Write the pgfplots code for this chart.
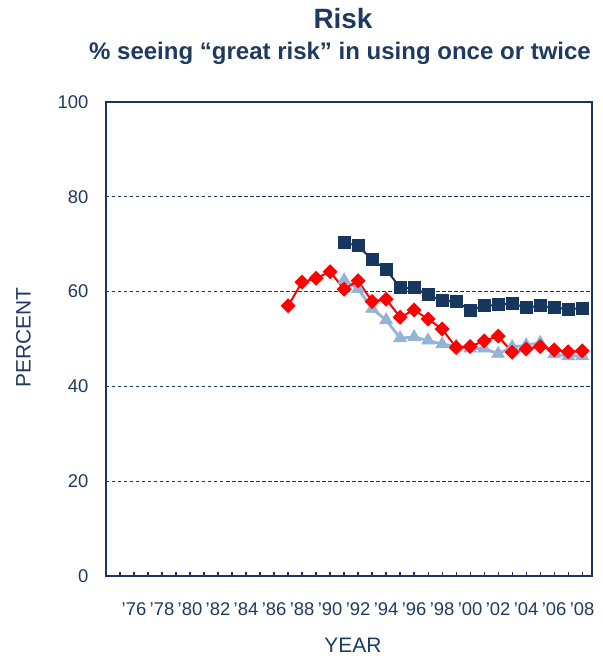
\documentclass[border=0pt]{standalone}
\usepackage{fontspec}
\setmainfont{Liberation Sans}
\usepackage{pgfplots}
\pgfplotsset{compat=1.18}
\definecolor{navy}{HTML}{17375E}
\definecolor{lblue}{HTML}{95B3D7}
\definecolor{txt}{HTML}{1F3A60}
\definecolor{rred}{HTML}{FF0000}
\begin{document}
\begin{tikzpicture}
\path[use as bounding box] (-106bp,-82bp) rectangle (497bp,576bp);
\begin{axis}[
  at={(0,0)}, anchor=south west,
  scale only axis, width=486bp, height=474bp,
  xmin=1974, xmax=2008.7, ymin=0, ymax=100,
  xtick={1975,...,2008},
  xticklabels={,’76,,’78,,’80,,’82,,’84,,’86,,’88,,’90,,’92,,’94,,’96,,’98,,’00,,’02,,’04,,’06,,’08},
  ytick={0,20,...,100},
  ymajorgrids,
  grid style={navy, line width=0.9bp, dash pattern=on 3.5bp off 2.5bp},
  axis line style={navy, line width=2.2bp},
  xtick pos=bottom, ytick pos=left,
  xtick align=inside,
  major tick length=4bp,
  xtick style={navy, line width=1.2bp},
  ytick style={draw=none},
  /pgf/number format/assume math mode=true,
  tick label style={font=\fontsize{18.5}{20}\selectfont, text=txt},
  xticklabel style={anchor=base, yshift=-39bp},
  yticklabel style={anchor=east, xshift=-14bp},
  xlabel={YEAR}, ylabel={PERCENT},
  label style={font=\fontsize{21}{23}\selectfont, text=txt},
  xlabel style={at={(axis description cs:0.508,-0.1456)}, anchor=center},
  ylabel style={at={(axis description cs:-0.1698,0.503)}, anchor=center, rotate=0},
  clip=false,
]
\addplot[lblue, line width=2.8bp, mark=triangle*, mark size=7.5bp, mark options={solid, fill=lblue, draw=lblue, line width=0.5bp}]
  coordinates {(1991,62.4)(1992,60.6)(1993,56.4)(1994,54.0)(1995,50.2)(1996,50.4)(1997,49.7)(1998,48.9)(1999,48.5)(2000,48.0)(2001,48.0)(2002,46.9)(2003,48.3)(2004,48.7)(2005,49.2)(2006,46.8)(2007,46.4)(2008,46.4)};
\addplot[rred, line width=2bp, mark=square*, mark size=4.3bp, mark options={solid, rotate=45, fill=rred, draw=rred}]
  coordinates {(1987,57.0)(1988,62.0)(1989,62.8)(1990,64.2)(1991,60.5)(1992,62.3)(1993,57.9)(1994,58.4)(1995,54.6)(1996,56.1)(1997,54.2)(1998,52.1)(1999,48.2)(2000,48.4)(2001,49.6)(2002,50.6)(2003,47.2)(2004,47.9)(2005,48.4)(2006,47.7)(2007,47.3)(2008,47.5)};
\addplot[navy, line width=2bp, mark=square*, mark size=5.5bp, mark options={solid, fill=navy, draw=navy}]
  coordinates {(1991,70.3)(1992,69.7)(1993,66.7)(1994,64.7)(1995,60.8)(1996,60.8)(1997,59.3)(1998,58.1)(1999,57.9)(2000,56.1)(2001,57.0)(2002,57.2)(2003,57.5)(2004,56.6)(2005,57.0)(2006,56.6)(2007,56.3)(2008,56.5)};
\end{axis}
\node[anchor=base, font=\bfseries\fontsize{28}{30}\selectfont, text=txt] at (237bp,547.7bp) {Risk};
\node[anchor=base, font=\bfseries\fontsize{24.1}{26}\selectfont, text=txt] at (234bp,516.7bp) {\% seeing “great risk” in using once or twice};
\end{tikzpicture}
\end{document}
